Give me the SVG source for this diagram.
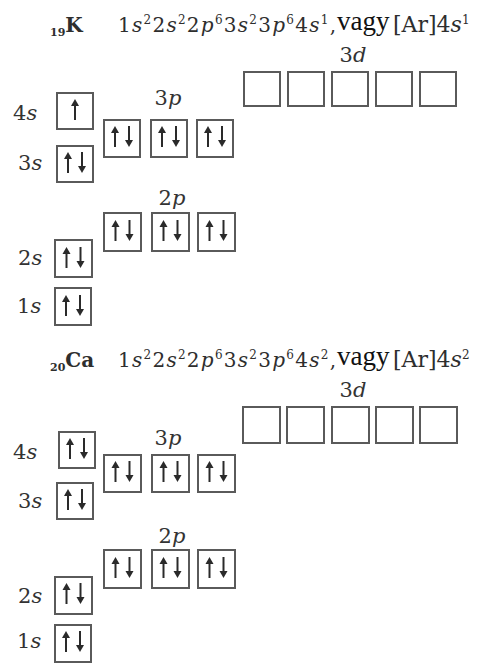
<svg xmlns="http://www.w3.org/2000/svg" width="482" height="664" viewBox="0 0 482 664">
<style>
.bg{fill:#fff}
.box{fill:none;stroke:#5a5a5a;stroke-width:2}
.lbl{font-family:"DejaVu Serif","Liberation Serif",serif;font-size:21px;fill:#333}
.ttl{font-family:"DejaVu Serif","Liberation Serif",serif;font-size:20px;fill:#2e2e2e}
.ar{font-size:22px}
.sub{font-size:11px;font-weight:bold}
.sup{font-size:12px}
.b{font-weight:bold}
.it{font-style:italic}
.mid{text-anchor:middle}
.vagy{font-family:"Liberation Serif","Times New Roman",serif;font-size:27px;fill:#111}
.shaft{stroke:#2a2a2a;stroke-width:2;fill:none}
.head{fill:#2a2a2a}
</style>
<defs>
  <g id="up"><line class="shaft" x1="0" y1="-5" x2="0" y2="10"/><polygon class="head" points="-4,-4 4,-4 0,-11"/></g>
  <g id="dn"><line class="shaft" x1="0" y1="-11" x2="0" y2="4"/><polygon class="head" points="-4,3 4,3 0,10"/></g>
  <g id="pair"><use href="#up" x="-7"/><use href="#dn" x="7"/></g>
</defs>
<rect class="bg" x="0" y="0" width="482" height="664"/>

<g id="K">
  <g id="K-title">
    <text class="ttl" x="50" y="32"><tspan class="sub" dy="4">19</tspan><tspan class="b" dy="-4">K</tspan></text>
    <text class="ttl" x="118" y="32" textLength="218" lengthAdjust="spacing">1<tspan class="it">s</tspan><tspan class="sup" dy="-8">2</tspan><tspan dy="8">2</tspan><tspan class="it">s</tspan><tspan class="sup" dy="-8">2</tspan><tspan dy="8">2</tspan><tspan class="it">p</tspan><tspan class="sup" dy="-8">6</tspan><tspan dy="8">3</tspan><tspan class="it">s</tspan><tspan class="sup" dy="-8">2</tspan><tspan dy="8">3</tspan><tspan class="it">p</tspan><tspan class="sup" dy="-8">6</tspan><tspan dy="8">4</tspan><tspan class="it">s</tspan><tspan class="sup" dy="-8">1</tspan><tspan dy="8">,</tspan></text>
    <text class="vagy" x="337" y="30">vagy</text>
    <text class="ttl ar" x="393" y="32">[Ar]4<tspan class="it">s</tspan><tspan class="sup" dy="-8">1</tspan></text>
  </g>
  <g id="K-4s">
    <text class="lbl" x="13" y="120">4<tspan class="it">s</tspan></text>
    <rect class="box" x="57" y="93" width="36" height="36"/>
    <use href="#up" x="75" y="110"/>
  </g>
  <g id="K-3s">
    <text class="lbl" x="18" y="170">3<tspan class="it">s</tspan></text>
    <rect class="box" x="57" y="146" width="36" height="36"/>
    <use href="#pair" x="75" y="163"/>
  </g>
  <g id="K-3p">
    <text class="lbl mid" x="168" y="105">3<tspan class="it">p</tspan></text>
    <rect class="box" x="104" y="120" width="36" height="37"/>
    <rect class="box" x="151" y="120" width="36" height="37"/>
    <rect class="box" x="197" y="120" width="36" height="37"/>
    <use href="#pair" x="122" y="137"/>
    <use href="#pair" x="169" y="137"/>
    <use href="#pair" x="215" y="137"/>
  </g>
  <g id="K-3d">
    <text class="lbl mid" x="353" y="62">3<tspan class="it">d</tspan></text>
    <rect class="box" x="244" y="72" width="36" height="34"/>
    <rect class="box" x="288" y="72" width="36" height="34"/>
    <rect class="box" x="332" y="72" width="36" height="34"/>
    <rect class="box" x="376" y="72" width="36" height="34"/>
    <rect class="box" x="420" y="72" width="36" height="34"/>
  </g>
  <g id="K-2p">
    <text class="lbl mid" x="172" y="205">2<tspan class="it">p</tspan></text>
    <rect class="box" x="104" y="213" width="37" height="38"/>
    <rect class="box" x="152" y="213" width="37" height="38"/>
    <rect class="box" x="198" y="213" width="37" height="38"/>
    <use href="#pair" x="122.5" y="231"/>
    <use href="#pair" x="170.5" y="231"/>
    <use href="#pair" x="216.5" y="231"/>
  </g>
  <g id="K-2s">
    <text class="lbl" x="18" y="265">2<tspan class="it">s</tspan></text>
    <rect class="box" x="55" y="240" width="37" height="37"/>
    <use href="#pair" x="73.5" y="258"/>
  </g>
  <g id="K-1s">
    <text class="lbl" x="17" y="313">1<tspan class="it">s</tspan></text>
    <rect class="box" x="55" y="288" width="36" height="37"/>
    <use href="#pair" x="73" y="306"/>
  </g>
</g>

<g id="Ca">
  <g id="Ca-title">
    <text class="ttl" x="50" y="367"><tspan class="sub" dy="4">20</tspan><tspan class="b" dy="-4">Ca</tspan></text>
    <text class="ttl" x="118" y="367" textLength="218" lengthAdjust="spacing">1<tspan class="it">s</tspan><tspan class="sup" dy="-8">2</tspan><tspan dy="8">2</tspan><tspan class="it">s</tspan><tspan class="sup" dy="-8">2</tspan><tspan dy="8">2</tspan><tspan class="it">p</tspan><tspan class="sup" dy="-8">6</tspan><tspan dy="8">3</tspan><tspan class="it">s</tspan><tspan class="sup" dy="-8">2</tspan><tspan dy="8">3</tspan><tspan class="it">p</tspan><tspan class="sup" dy="-8">6</tspan><tspan dy="8">4</tspan><tspan class="it">s</tspan><tspan class="sup" dy="-8">2</tspan><tspan dy="8">,</tspan></text>
    <text class="vagy" x="337" y="365">vagy</text>
    <text class="ttl ar" x="393" y="367">[Ar]4<tspan class="it">s</tspan><tspan class="sup" dy="-8">2</tspan></text>
  </g>
  <g id="Ca-4s">
    <text class="lbl" x="13" y="459">4<tspan class="it">s</tspan></text>
    <rect class="box" x="59" y="432" width="36" height="36"/>
    <use href="#pair" x="77" y="449"/>
  </g>
  <g id="Ca-3s">
    <text class="lbl" x="18" y="508">3<tspan class="it">s</tspan></text>
    <rect class="box" x="57" y="483" width="36" height="36"/>
    <use href="#pair" x="75" y="500"/>
  </g>
  <g id="Ca-3p">
    <text class="lbl mid" x="168" y="445">3<tspan class="it">p</tspan></text>
    <rect class="box" x="104" y="455" width="37" height="37"/>
    <rect class="box" x="152" y="455" width="37" height="37"/>
    <rect class="box" x="198" y="455" width="37" height="37"/>
    <use href="#pair" x="122.5" y="472"/>
    <use href="#pair" x="170.5" y="472"/>
    <use href="#pair" x="216.5" y="472"/>
  </g>
  <g id="Ca-3d">
    <text class="lbl mid" x="353" y="397">3<tspan class="it">d</tspan></text>
    <rect class="box" x="243" y="407" width="37" height="36"/>
    <rect class="box" x="287" y="407" width="37" height="36"/>
    <rect class="box" x="332" y="407" width="37" height="36"/>
    <rect class="box" x="376" y="407" width="37" height="36"/>
    <rect class="box" x="420" y="407" width="37" height="36"/>
  </g>
  <g id="Ca-2p">
    <text class="lbl mid" x="172" y="543">2<tspan class="it">p</tspan></text>
    <rect class="box" x="104" y="550" width="37" height="38"/>
    <rect class="box" x="152" y="550" width="37" height="38"/>
    <rect class="box" x="198" y="550" width="37" height="38"/>
    <use href="#pair" x="122.5" y="568"/>
    <use href="#pair" x="170.5" y="568"/>
    <use href="#pair" x="216.5" y="568"/>
  </g>
  <g id="Ca-2s">
    <text class="lbl" x="18" y="603">2<tspan class="it">s</tspan></text>
    <rect class="box" x="55" y="577" width="37" height="37"/>
    <use href="#pair" x="73.5" y="594"/>
  </g>
  <g id="Ca-1s">
    <text class="lbl" x="17" y="648">1<tspan class="it">s</tspan></text>
    <rect class="box" x="55" y="625" width="36" height="37"/>
    <use href="#pair" x="73" y="642"/>
  </g>
</g>
</svg>
